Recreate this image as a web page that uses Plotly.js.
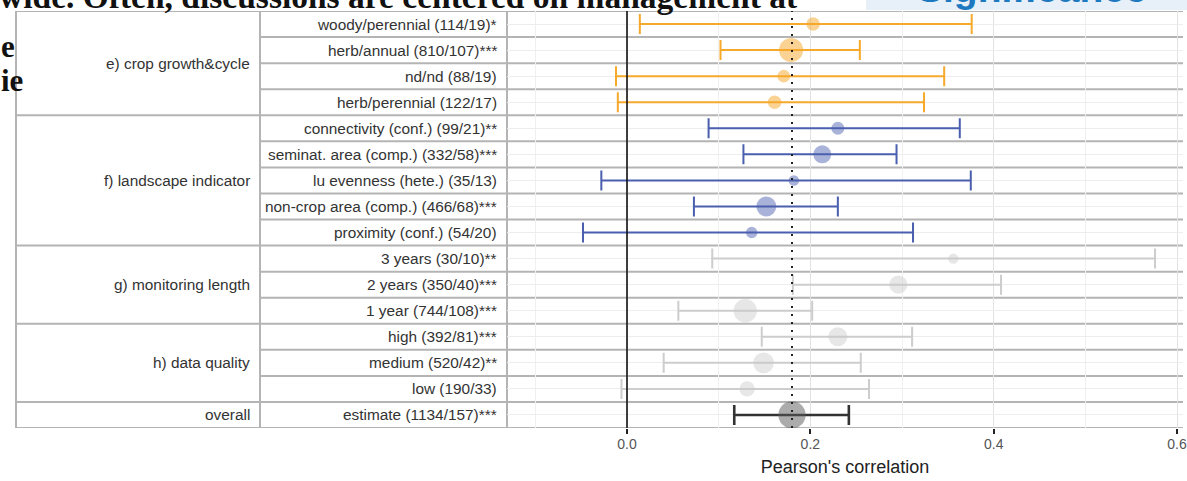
<!DOCTYPE html>
<html>
<head>
<meta charset="utf-8">
<script src="https://cdn.plot.ly/plotly-3.0.1.min.js"></script>
<style>
  html, body { margin: 0; padding: 0; background: #ffffff; }
  #chart { width: 1187px; height: 481px; }
</style>
</head>
<body>
<div id="chart"></div>
<script>
// ---------------- data ----------------
const groupNames = ['e) crop growth&cycle', 'f) landscape indicator', 'g) monitoring length', 'h) data quality', 'overall'];
const rowLabels = [
  'woody/perennial (114/19)*',
  'herb/annual (810/107)***',
  'nd/nd (88/19)',
  'herb/perennial (122/17)',
  'connectivity (conf.) (99/21)**',
  'seminat. area (comp.) (332/58)***',
  'lu evenness (hete.) (35/13)',
  'non-crop area (comp.) (466/68)***',
  'proximity (conf.) (54/20)',
  '3 years (30/10)**',
  '2 years (350/40)***',
  '1 year (744/108)***',
  'high (392/81)***',
  'medium (520/42)**',
  'low (190/33)',
  'estimate (1134/157)***'
];
const rowGroup = [0, 0, 0, 0, 1, 1, 1, 1, 1, 2, 2, 2, 3, 3, 3, 4];
const nObs     = [114, 810, 88, 122, 99, 332, 35, 466, 54, 30, 350, 744, 392, 520, 190, 1134];
const estimate = [0.203, 0.179, 0.171, 0.161, 0.230, 0.213, 0.182, 0.152, 0.136, 0.356, 0.296, 0.129, 0.230, 0.149, 0.131, 0.180];
const ciLow    = [0.014, 0.102, -0.012, -0.010, 0.089, 0.127, -0.028, 0.073, -0.048, 0.093, 0.181, 0.056, 0.147, 0.040, -0.006, 0.117];
const ciHigh   = [0.376, 0.254, 0.346, 0.324, 0.363, 0.294, 0.375, 0.230, 0.312, 0.576, 0.408, 0.202, 0.311, 0.255, 0.264, 0.242];
const xTickVals = [0, 0.2, 0.4, 0.6];
const xTickText = ['0.0', '0.2', '0.4', '0.6'];

// ---------------- styling ----------------
const W = 1187, H = 481;
const px = v => v / W;                 // pixel -> paper x
const lineCol = ['#F6A92B', '#4A5FAE', '#CDCDCD', '#CDCDCD', '#333333'];
const markCol = ['rgba(246,169,43,0.72)', 'rgba(74,95,174,0.68)', 'rgba(200,200,200,0.62)', 'rgba(200,200,200,0.62)', 'rgba(90,90,90,0.72)'];
const lineW   = [2, 2, 2, 2, 2.6];
const nRows = rowLabels.length;
const yOf = i => nRows - 1 - i;
const sizeOf = n => 7 + 0.6 * Math.sqrt(n);
const labelFont = { family: 'Liberation Sans, Arial, sans-serif', size: 15.4, color: '#333333' };

const traces = [];
for (let g = 0; g < groupNames.length; g++) {
  const idx = [];
  rowGroup.forEach((gg, i) => { if (gg === g) idx.push(i); });
  traces.push({
    type: 'scatter',
    mode: 'markers',
    x: idx.map(i => estimate[i]),
    y: idx.map(i => yOf(i)),
    text: idx.map(i => rowLabels[i]),
    hovertemplate: '%{text}<br>r = %{x:.3f}<extra></extra>',
    marker: { size: idx.map(i => sizeOf(nObs[i])), color: markCol[g], line: { width: 0 } },
    error_x: {
      type: 'data', symmetric: false,
      array: idx.map(i => ciHigh[i] - estimate[i]),
      arrayminus: idx.map(i => estimate[i] - ciLow[i]),
      color: lineCol[g], thickness: lineW[g], width: 10
    },
    showlegend: false
  });
}

// ---------------- table & guides ----------------
const borderCol = '#B4B4B4';
const groupStarts = [];
rowGroup.forEach((g, i) => { if (i === 0 || rowGroup[i - 1] !== g) groupStarts.push(i); });
const shapes = [];
for (let k = 0; k <= nRows; k++) {
  const isGroupEdge = (k === nRows) || groupStarts.includes(k);
  shapes.push({
    type: 'line', xref: 'paper', yref: 'y',
    x0: px(isGroupEdge ? 16 : 260), x1: px(1183),
    y0: nRows - 0.5 - k, y1: nRows - 0.5 - k,
    line: { color: borderCol, width: 2 }, layer: 'below'
  });
}
[16, 260, 507].forEach(xp => {
  shapes.push({
    type: 'line', xref: 'paper', yref: 'y',
    x0: px(xp), x1: px(xp), y0: -0.5, y1: nRows - 0.5,
    line: { color: borderCol, width: 2 }, layer: 'below'
  });
});
shapes.push({
  type: 'line', xref: 'x', yref: 'y', x0: 0, x1: 0, y0: -0.5, y1: nRows - 0.5,
  line: { color: '#111111', width: 1.6 }, layer: 'above'
});
shapes.push({
  type: 'line', xref: 'x', yref: 'y', x0: estimate[nRows - 1], x1: estimate[nRows - 1], y0: -0.5, y1: nRows - 0.5,
  line: { color: '#222222', width: 2, dash: '2px,6px' }, layer: 'above'
});
// light blue box behind the cropped heading at top right
shapes.push({
  type: 'rect', xref: 'paper', yref: 'paper',
  x0: px(866), x1: 1, y0: 1 - 10 / H, y1: 1,
  fillcolor: '#E7F0F8', line: { width: 0 }, layer: 'below'
});

const annotations = [];
rowLabels.forEach((lab, i) => {
  annotations.push({
    xref: 'paper', yref: 'y', x: px(499), y: yOf(i), xanchor: 'right', yanchor: 'middle',
    text: lab, showarrow: false, font: labelFont
  });
});
groupNames.forEach((gname, g) => {
  const idx = [];
  rowGroup.forEach((gg, i) => { if (gg === g) idx.push(i); });
  const yc = (yOf(idx[0]) + yOf(idx[idx.length - 1])) / 2;
  annotations.push({
    xref: 'paper', yref: 'y', x: px(252), y: yc, xanchor: 'right', yanchor: 'middle',
    text: gname, showarrow: false, font: labelFont
  });
});
// cropped page text around the figure (as in the reference screenshot)
annotations.push({
  xref: 'paper', yref: 'paper', x: px(-3), y: 1 + 4 / H, xanchor: 'left', yanchor: 'middle',
  text: '<b>wide. Often, discussions are centered on management at</b>', showarrow: false,
  font: { family: 'Liberation Serif, serif', size: 33.5, color: '#111111' }
});
annotations.push({
  xref: 'paper', yref: 'paper', x: px(-1), y: 1 - 46 / H, xanchor: 'left', yanchor: 'middle',
  text: '<b>e</b>', showarrow: false,
  font: { family: 'Liberation Serif, serif', size: 31, color: '#111111' }
});
annotations.push({
  xref: 'paper', yref: 'paper', x: px(-1), y: 1 - 80 / H, xanchor: 'left', yanchor: 'middle',
  text: '<b>ie</b>', showarrow: false,
  font: { family: 'Liberation Serif, serif', size: 31, color: '#111111' }
});
annotations.push({
  xref: 'paper', yref: 'paper', x: px(1032), y: 1 + 12 / H, xanchor: 'center', yanchor: 'middle',
  text: '<b>Significance</b>', showarrow: false,
  font: { family: 'Liberation Sans, Arial, sans-serif', size: 39, color: '#1C79C0' }
});

const layout = {
  width: W, height: H,
  margin: { l: 0, r: 0, t: 0, b: 0 },
  paper_bgcolor: '#ffffff', plot_bgcolor: '#ffffff',
  xaxis: {
    domain: [px(507), px(1183)],
    range: [-0.1309, 0.6065],
    tickmode: 'array', tickvals: xTickVals, ticktext: xTickText,
    ticks: 'outside', ticklen: 5, tickwidth: 1.6, tickcolor: '#222222',
    ticklabelstandoff: -2,
    showgrid: true, gridcolor: '#E2E2E2', gridwidth: 1,
    minor: { tickmode: 'array', tickvals: [-0.1, 0.1, 0.3, 0.5], showgrid: true, gridcolor: '#F0F0F0', gridwidth: 1, ticks: '' },
    zeroline: false, showline: false,
    tickfont: { family: 'Liberation Sans, Arial, sans-serif', size: 14, color: '#555555' },
    title: { text: "Pearson's correlation", standoff: 9,
             font: { family: 'Liberation Sans, Arial, sans-serif', size: 18, color: '#222222' } },
    fixedrange: true
  },
  yaxis: {
    domain: [1 - 428 / H, 1 - 11 / H],
    range: [-0.5, nRows - 0.5],
    tickmode: 'linear', tick0: 0, dtick: 1,
    showticklabels: false, ticks: '',
    showgrid: true, gridcolor: '#EDEDED', gridwidth: 1,
    zeroline: false, showline: false, fixedrange: true
  },
  shapes: shapes,
  annotations: annotations,
  showlegend: false,
  hovermode: 'closest'
};

Plotly.newPlot('chart', traces, layout, { displayModeBar: false, staticPlot: false });
</script>
</body>
</html>
